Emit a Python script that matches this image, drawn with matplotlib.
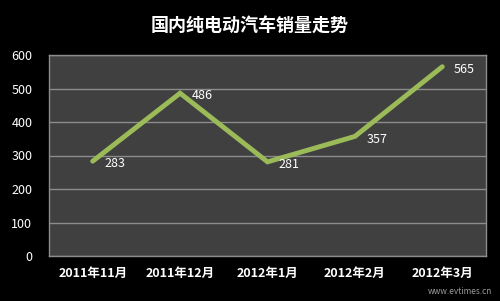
import numpy as np
import matplotlib
matplotlib.use('Agg')
from matplotlib import pyplot as plt

plt.rcParams['font.family'] = ['Noto Sans CJK SC', 'DejaVu Sans']

# chart data
months = ['2011年11月', '2011年12月', '2012年1月', '2012年2月', '2012年3月']
sales = [283, 486, 281, 357, 565]
y_ticks = [0, 100, 200, 300, 400, 500, 600]

fig = plt.figure(figsize=(5.0, 3.01), dpi=100, facecolor='black')
ax = fig.add_axes([49 / 500, 1 - 256 / 301, 437 / 500, 201 / 301])
ax.set_facecolor('#404040')

x = np.arange(len(months))
ax.plot(x, sales, color='#9bbb59', lw=3.5, solid_capstyle='round', solid_joinstyle='miter', zorder=3)
for xi, v in zip(x, sales):
    ax.text(xi + 0.13, v - 8, str(v), color='white', fontsize=9, va='center', ha='left', zorder=4)

ax.set_xlim(-0.5, len(months) - 0.5)
ax.set_ylim(0, 600)
ax.set_yticks(y_ticks)
ax.set_xticks(x)
ax.set_xticklabels(months, color='white', fontsize=9, fontweight='bold')
ax.tick_params(axis='y', colors='white', labelsize=9, length=0, pad=12)
ax.tick_params(axis='x', length=0, pad=8)
ax.grid(axis='y', color='#8c8c8c', lw=1)
ax.set_axisbelow(True)
for s in ax.spines.values():
    s.set_color('#8c8c8c')
    s.set_linewidth(1)

fig.text(0.5, 1 - 25 / 301, '国内纯电动汽车销量走势', color='white', fontsize=13,
         fontweight='bold', ha='center', va='center')
fig.text(0.985, 0.03, 'www.evtimes.cn', color='#9a9a9a', fontsize=6, ha='right', va='center')

fig.savefig('out.png', dpi=100, facecolor='black')
